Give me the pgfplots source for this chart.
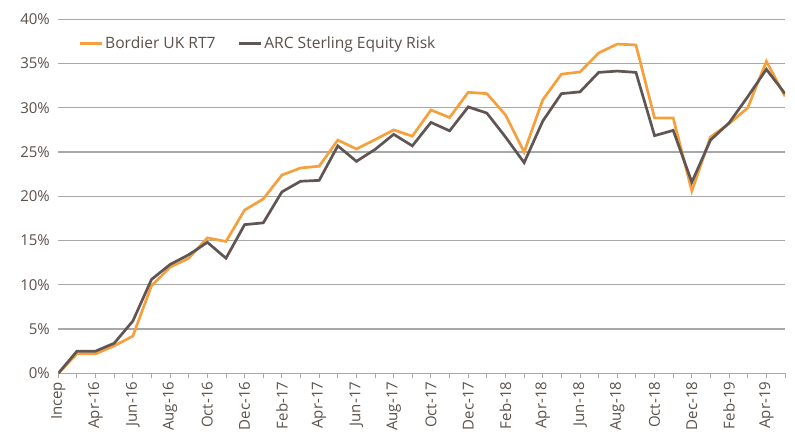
\documentclass[border=0pt]{standalone}
\usepackage{pgfplots}
\pgfplotsset{compat=1.18}
\usepackage{pgfplotstable}
\usepackage{fontspec}
\setmainfont{Open Sans}
\definecolor{bord}{HTML}{F5A03C}
\definecolor{arc}{HTML}{5F5552}
\definecolor{txt}{HTML}{5A5049}
\definecolor{gridc}{HTML}{A8A8A8}
\pgfplotstableread{
i bordier arc
0 0 0
1 2.2 2.5
2 2.2 2.5
3 3.1 3.4
4 4.2 5.9
5 9.9 10.6
6 12.0 12.3
7 13.0 13.4
8 15.3 14.8
9 14.9 13.0
10 18.45 16.8
11 19.7 17.0
12 22.4 20.5
13 23.2 21.7
14 23.4 21.8
15 26.35 25.7
16 25.35 23.95
17 26.4 25.3
18 27.5 27.0
19 26.8 25.7
20 29.75 28.35
21 28.9 27.4
22 31.75 30.1
23 31.6 29.4
24 29.2 26.7
25 25.0 23.8
26 30.9 28.5
27 33.8 31.6
28 34.05 31.8
29 36.2 34.0
30 37.2 34.15
31 37.1 34.0
32 28.85 26.85
33 28.85 27.45
34 20.6 21.6
35 26.7 26.35
36 28.2 28.3
37 30.0 31.25
38 35.25 34.35
39 31.3 31.6
}\datatable
\begin{document}
\begin{tikzpicture}[font=\fontsize{15bp}{18bp}\selectfont]
\useasboundingbox (-58.3bp,-65.7bp) rectangle (736.7bp,373.3bp);
\begin{axis}[
  scale only axis, width=726.7bp, height=354bp,
  xmin=0, xmax=39, ymin=0, ymax=40,
  axis x line*=bottom, axis y line*=left,
  y axis line style={draw=none},
  x axis line style={draw=gridc, line width=1.2bp, -},
  xtick={0,...,39},
  xticklabels={Incep,,Apr-16,,Jun-16,,Aug-16,,Oct-16,,Dec-16,,Feb-17,,Apr-17,,Jun-17,,Aug-17,,Oct-17,,Dec-17,,Feb-18,,Apr-18,,Jun-18,,Aug-18,,Oct-18,,Dec-18,,Feb-19,,Apr-19,},
  xticklabel style={rotate=90, anchor=east},
  tick align=outside, major tick length=5bp,
  xtick style={draw=gridc, line width=1bp},
  ytick={0,5,...,40}, ytick style={draw=none},
  yticklabel={\pgfmathprintnumber{\tick}\%},
  /pgf/number format/assume math mode=true,
  tick label style={font=\fontsize{15bp}{18bp}\selectfont, text=txt},
  ymajorgrids, grid style={draw=gridc, line width=1.2bp},
  legend columns=2,
  legend style={draw=none, fill=none, inner sep=0pt, at={(rel axis cs:0,1)}, anchor=north west, xshift=20bp, yshift=-15bp, font=\fontsize{15.6bp}{18bp}\selectfont, text=txt, /tikz/every even column/.append style={column sep=20bp}},
  legend cell align=left,
  legend image code/.code={\draw[#1] (0bp,0bp) -- (22bp,0bp);},
]
\addplot[bord, line width=2.7bp] table[x=i, y=bordier] {\datatable};
\addlegendentry{Bordier UK RT7}
\addplot[arc, line width=2.7bp] table[x=i, y=arc] {\datatable};
\addlegendentry{ARC Sterling Equity Risk}
\end{axis}
\end{tikzpicture}
\end{document}
